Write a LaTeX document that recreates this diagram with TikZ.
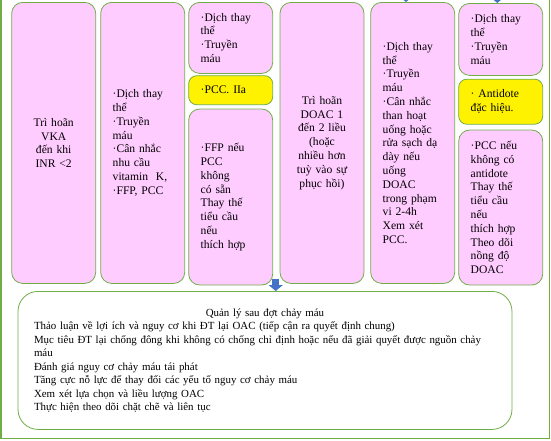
\documentclass[tikz,border=0pt]{standalone}
\usepackage{fontspec}
\setmainfont{Liberation Serif}
\usetikzlibrary{positioning,arrows.meta}
\definecolor{boxpink}{HTML}{FFCCFF}
\definecolor{boxgreen}{HTML}{70AD47}
\definecolor{arrowblue}{HTML}{4472C4}
\tikzset{
pinkbox/.style={draw=boxgreen,fill=boxpink,line width=0.8pt,rounded corners=11pt,minimum width=84pt,
text width=60pt,inner xsep=12pt,inner ysep=0pt,align=left,anchor=north},
tallbox/.style={pinkbox,minimum height=281pt},
yellowbox/.style={pinkbox,fill=yellow,rounded corners=8pt},
mgmtbox/.style={draw=boxgreen,fill=white,line width=0.8pt,rounded corners=20pt,minimum width=494pt,
minimum height=138pt,text width=462pt,inner xsep=16pt,align=left,anchor=north,
font=\fontsize{10.9}{13.5}\selectfont},
frame/.style={draw=boxgreen,line width=1.6pt},
blockarrow/.style={-{Triangle[width=14pt,length=6pt]},line width=7pt,arrowblue}
}

\begin{document}
\begin{tikzpicture}[x=1pt,y=-1pt,every node/.style={font=\fontsize{11.6}{13.8}\selectfont}]
\useasboundingbox (0,0) rectangle (551,440);
\draw[frame] (1,-20) rectangle (549.5,438.5);
% VKA
\node[tallbox,align=center] (vka) at (53.7,2) {Trì hoãn\\VKA\\đến khi\\INR <2};
\node[tallbox] (vkaext) at (142.7,2) {·Dịch thay\\thể\\·Truyền\\máu\\·Cân nhắc\\nhu cầu\\vitamin~ K,\\·FFP, PCC};
\node[pinkbox,minimum height=71pt] (vkamaj) at (230.7,2) {·Dịch thay\\thể\\·Truyền\\máu};
\node[yellowbox,minimum height=29pt,below=1.5pt of vkamaj] (vkapcc) {·PCC. IIa};
\node[pinkbox,minimum height=176pt,below=3.5pt of vkapcc] (vkaffp) {·FFP nếu\\PCC\\không\\có sẵn\\Thay thế\\tiểu cầu\\nếu\\thích hợp};
% DOAC
\node[tallbox,align=center] (doac) at (322,2) {Trì hoãn\\DOAC 1\\đến 2 liều\\(hoặc\\nhiều hơn\\tuỳ vào sự\\phục hồi)};
\node[tallbox] (doacext) at (412.7,2) {·Dịch thay\\thể\\·Truyền\\máu\\·Cân nhắc\\than hoạt\\uống hoặc\\rửa sạch dạ\\dày nếu\\uống\\DOAC\\trong phạm\\vi 2-4h\\Xem xét\\PCC.};
\node[pinkbox,minimum height=72pt] (doacmaj) at (500.7,3) {·Dịch thay\\thể\\·Truyền\\máu};
\node[yellowbox,minimum height=45pt,below=3pt of doacmaj] (doacanti) {· Antidote\\đặc hiệu.};
\node[pinkbox,minimum height=155pt,below=5pt of doacanti] (doacpcc) {·PCC nếu\\không có\\antidote\\Thay thế\\tiểu cầu\\nếu\\thích hợp\\Theo dõi\\nồng độ\\DOAC};
% after bleeding
\node[mgmtbox] (mgmt) at (265,291) {\makebox[\hsize]{Quản lý sau đợt chảy máu}\\
Thảo luận về lợi ích và nguy cơ khi ĐT lại OAC (tiếp cận ra quyết định chung)\\
Mục tiêu ĐT lại chống đông khi không có chống chỉ định hoặc nếu đã giải quyết được nguồn chảy\\
máu\\
Đánh giá nguy cơ chảy máu tái phát\\
Tăng cực nỗ lực để thay đổi các yếu tố nguy cơ chảy máu\\
Xem xét lựa chọn và liều lượng OAC\\
Thực hiện theo dõi chặt chẽ và liên tục};
\coordinate (drop) at (275.7,279);
\coordinate (in5) at (406,-15);
\coordinate (in6) at (497.3,-15);
\draw[blockarrow] (drop) -- (drop |- mgmt.north);
\draw[blockarrow] (in5) -- (in5 |- doacext.north);
\draw[blockarrow] (in6) -- (in6 |- doacmaj.north);
\end{tikzpicture}
\end{document}
